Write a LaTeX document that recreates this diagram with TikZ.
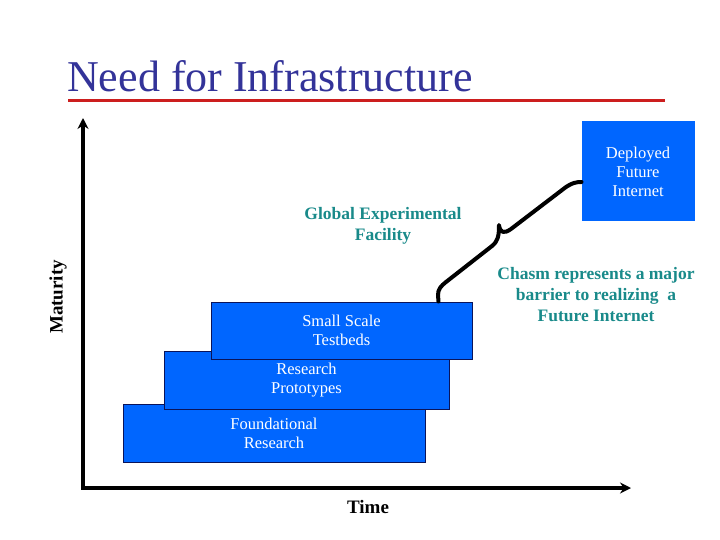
\documentclass[tikz,border=0pt]{standalone}
\usepackage{fontspec}
\setmainfont{Liberation Serif}
\usetikzlibrary{arrows.meta,calc}
\definecolor{boxblue}{RGB}{0,102,255}
\definecolor{boxedge}{RGB}{10,20,90}
\definecolor{titleblue}{RGB}{51,51,153}
\definecolor{teallab}{RGB}{25,138,138}
\definecolor{redline}{RGB}{204,30,30}
\tikzset{
  stage/.style={fill=boxblue, draw=boxedge, line width=1pt, inner sep=0pt,
    text=white, align=center, font=\fontsize{16.5}{19}\selectfont},
  teal label/.style={text=teallab, align=center, font=\fontsize{17.5}{21}\selectfont\bfseries},
  axis label/.style={font=\fontsize{19}{22}\selectfont\bfseries},
  axisline/.style={line width=4pt, {Stealth[length=11pt,width=11pt]}-{Stealth[length=11pt,width=11pt]}},
  chasm/.style={line width=4pt, line cap=round, line join=round}
}
\begin{document}
\begin{tikzpicture}[x=1pt,y=-1pt]
\useasboundingbox (0,0) rectangle (720,540);
% title
\node[anchor=base west, inner sep=0pt, text=titleblue, font=\fontsize{44}{48}\selectfont] (title) at (67,92) {Need for Infrastructure};
\draw[redline, line width=3pt] (68,101) -- (665,101);
% axes
\coordinate (ytop) at (83,118);
\coordinate (orig) at (83,488);
\coordinate (xend) at (631,488);
\draw[axisline] (ytop) -- (orig) -- (xend);
\node[axis label, rotate=90] (mat) at (58,297) {Maturity};
\node[axis label] (time) at (368,507) {Time};
% stacked stages
\node[stage, minimum width=302pt, minimum height=58pt] (found) at (274,433) {Foundational\\Research};
\node[stage, minimum width=285pt, minimum height=58pt] (proto) at (306.5,380) {Research\\Prototypes};
\node[stage, minimum width=261pt, minimum height=57pt] (small) at (341.5,330.5) {Small Scale\\Testbeds};
\node[stage, draw=boxblue, minimum width=112pt, minimum height=99pt] (dep) at (638,171.5) {Deployed\\Future\\Internet};
% labels
\node[teal label] (gef) at (383,225.5) {Global Experimental\\Facility};
\node[teal label] (chasmtxt) at (596,295) {Chasm represents a major\\barrier to realizing~ a\\Future Internet};
% chasm brace
\coordinate (bstart) at ($(small.north east)+(-34,0)$);
\coordinate (bend) at (dep.west |- 0,182);
\draw[chasm] (bstart) -- (438,295) .. controls (438,289) and (441,286) .. (446,282)
  -- (492,246) .. controls (498,241) and (499,236) .. (499,225)
  .. controls (500,233) and (504,234) .. (511,229)
  -- (566,187) .. controls (572,183) and (576,182) .. (bend);
\end{tikzpicture}
\end{document}
